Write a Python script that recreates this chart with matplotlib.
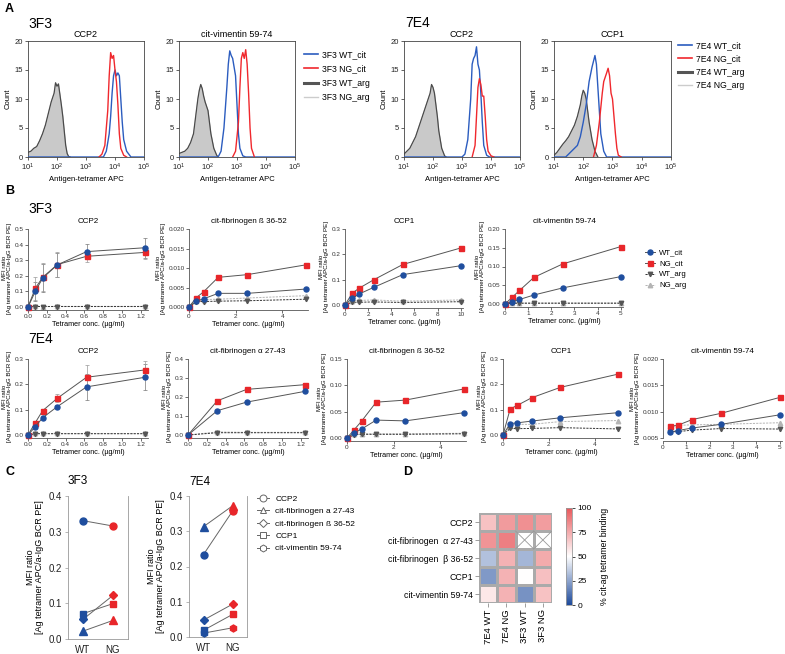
import numpy as np
import matplotlib
matplotlib.use("Agg")
import matplotlib.pyplot as plt
import matplotlib.ticker as mticker
from matplotlib.lines import Line2D
from matplotlib.colors import LinearSegmentedColormap

plt.rcParams['font.family'] = ['Liberation Sans', 'DejaVu Sans']
plt.rcParams['mathtext.fontset'] = 'custom'
plt.rcParams['mathtext.rm'] = 'Liberation Sans'
plt.rcParams['mathtext.it'] = 'Liberation Sans:italic'

W, H = 785, 654

# ── colours ─────────────────────────────────────────────────────────
BLUE = "#1f4e9e"
RED = "#e8262a"
DGRAY = "#555555"
LGRAY = "#b4b4b4"
HBLUE = "#2b5cbf"
HRED = "#f0282d"

# ── Panel A: flow histograms (log10 APC, count) ─────────────────────
A1_ARG_LOG = [1.0, 1.1, 1.2, 1.3, 1.4, 1.5, 1.6, 1.7, 1.8, 1.9, 1.95, 2.0, 2.05, 2.1, 2.15, 2.2, 2.25, 2.3, 2.35, 2.4, 2.45]
A1_ARG_CNT = [0.8, 1.0, 1.5, 1.8, 2.8, 4.0, 5.5, 7.5, 9.5, 11.0, 12.8, 12.2, 12.6, 10.8, 9.0, 7.0, 4.5, 2.0, 0.6, 0.1, 0.0]
A1_WT_LOG = [1.0, 3.6, 3.7, 3.8, 3.85, 3.9, 3.95, 4.0, 4.05, 4.1, 4.15, 4.2, 4.25, 4.3, 4.4, 4.55, 5.0]
A1_WT_CNT = [0, 0, 1.0, 4.0, 7.0, 11.0, 14.0, 15.0, 14.0, 14.5, 14.0, 10.0, 6.0, 3.0, 1.0, 0, 0]
A1_NG_LOG = [3.45, 3.55, 3.65, 3.75, 3.8, 3.85, 3.9, 3.95, 4.0, 4.05, 4.1, 4.15, 4.2, 4.3, 4.4]
A1_NG_CNT = [0, 0.5, 2.0, 8.0, 14.0, 18.0, 17.0, 17.5, 15.0, 13.0, 9.0, 4.0, 1.5, 0.3, 0]

A2_ARG_LOG = [1.0, 1.1, 1.2, 1.3, 1.4, 1.5, 1.55, 1.6, 1.65, 1.7, 1.75, 1.8, 1.85, 1.9, 2.0, 2.05, 2.1, 2.2, 2.3, 2.35]
A2_ARG_CNT = [0.6, 0.8, 1.0, 1.5, 2.5, 4.0, 6.0, 8.0, 10.0, 11.5, 12.5, 11.8, 10.5, 9.5, 8.0, 6.0, 4.0, 1.5, 0.3, 0]
A2_WT_LOG = [1.0, 2.35, 2.45, 2.55, 2.65, 2.7, 2.75, 2.8, 2.85, 2.9, 2.95, 3.0, 3.05, 3.1, 3.2, 3.3, 5.0]
A2_WT_CNT = [0, 0, 1.0, 5.0, 12.0, 16.0, 18.3, 17.5, 17.0, 15.5, 14.0, 9.0, 4.0, 1.5, 0.2, 0, 0]
A2_NG_LOG = [2.85, 2.95, 3.05, 3.1, 3.15, 3.2, 3.25, 3.3, 3.35, 3.4, 3.45, 3.5, 3.6]
A2_NG_CNT = [0, 1.0, 6.0, 12.0, 17.0, 18.0, 17.0, 18.5, 16.0, 11.0, 5.0, 1.5, 0]

A3_ARG_LOG = [1.0, 1.1, 1.2, 1.3, 1.4, 1.5, 1.6, 1.7, 1.8, 1.9, 1.95, 2.0, 2.05, 2.1, 2.15, 2.2, 2.3, 2.4, 2.45]
A3_ARG_CNT = [0.5, 1.0, 1.5, 2.5, 3.5, 5.0, 6.5, 8.0, 9.5, 11.0, 12.5, 12.0, 11.0, 9.0, 7.0, 4.5, 1.5, 0.2, 0]
A3_WT_LOG = [1.0, 3.0, 3.1, 3.2, 3.3, 3.35, 3.4, 3.45, 3.5, 3.55, 3.6, 3.65, 3.7, 3.75, 3.85, 3.95, 5.0]
A3_WT_CNT = [0, 0, 0.5, 3.0, 10.0, 16.0, 17.0, 17.5, 19.0, 16.0, 15.0, 11.0, 6.0, 2.0, 0.3, 0, 0]
A3_NG_LOG = [3.35, 3.45, 3.5, 3.55, 3.6, 3.65, 3.7, 3.75, 3.8, 3.85, 3.9, 4.0, 4.1]
A3_NG_CNT = [0, 2.0, 7.0, 12.0, 13.5, 12.5, 10.5, 10.5, 7.0, 3.0, 1.0, 0.2, 0]

A4_ARG_LOG = [1.0, 1.1, 1.2, 1.3, 1.4, 1.5, 1.6, 1.7, 1.8, 1.9, 1.95, 2.0, 2.05, 2.1, 2.15, 2.2, 2.3, 2.4, 2.5]
A4_ARG_CNT = [0.3, 0.8, 1.5, 2.2, 2.8, 3.5, 4.5, 5.5, 7.0, 9.0, 10.5, 11.5, 11.0, 10.0, 8.0, 6.0, 3.0, 1.0, 0]
A4_WT_LOG = [1.0, 1.4, 1.5, 1.6, 1.8, 1.9, 2.0, 2.1, 2.2, 2.3, 2.4, 2.45, 2.5, 2.55, 2.6, 2.7, 2.8, 5.0]
A4_WT_CNT = [0, 0, 0.5, 1.0, 2.0, 3.5, 6.0, 9.0, 13.0, 15.5, 17.5, 16.0, 12.0, 8.0, 4.0, 1.0, 0, 0]
A4_NG_LOG = [2.35, 2.45, 2.55, 2.65, 2.7, 2.8, 2.85, 2.9, 2.95, 3.0, 3.05, 3.1, 3.15, 3.2, 3.3]
A4_NG_CNT = [0, 2.0, 6.0, 11.0, 13.0, 14.5, 15.3, 14.0, 11.0, 10.0, 7.0, 4.0, 1.5, 0.3, 0]

# ── Panel B: titration curves ────────────────────────────────────────
CONC_CCP2 = [0, 0.078, 0.156, 0.3125, 0.625, 1.25]
CONC_5 = [0, 0.3125, 0.625, 1.25, 2.5, 5]
CONC_10 = [0, 0.625, 1.25, 2.5, 5, 10]
CONC_FIBA = [0, 0.3125, 0.625, 1.25]
CONC_VIM7 = [0.3125, 0.625, 1.25, 2.5, 5]

F3_CCP2_WT = [0, 0.10, 0.185, 0.27, 0.355, 0.38]
F3_CCP2_NG = [0, 0.12, 0.19, 0.272, 0.325, 0.35]
F3_CCP2_WTARG = [0, 0.003, 0.003, 0.003, 0.003, 0.003]
F3_CCP2_NGARG = [0, 0.004, 0.003, 0.004, 0.004, 0.004]
F3_CCP2_WT_ERR = [0, 0.06, 0.09, 0.075, 0.05, 0.065]
F3_CCP2_NG_ERR = [0, 0.075, 0.09, 0.08, 0.035, 0.04]

F3_FIBB_WT = [0, 0.0015, 0.0021, 0.0035, 0.0035, 0.0046]
F3_FIBB_NG = [0, 0.0024, 0.0039, 0.0076, 0.0083, 0.0108]
F3_FIBB_WTARG = [0, 0.0014, 0.0014, 0.0015, 0.0016, 0.0020]
F3_FIBB_NGARG = [0, 0.0016, 0.0019, 0.0020, 0.0023, 0.0029]

F3_CCP1_WT = [0, 0.027, 0.044, 0.07, 0.12, 0.155]
F3_CCP1_NG = [0, 0.047, 0.067, 0.10, 0.16, 0.225]
F3_CCP1_WTARG = [0, 0.011, 0.011, 0.012, 0.010, 0.013]
F3_CCP1_NGARG = [0, 0.017, 0.018, 0.020, 0.015, 0.020]

F3_VIM_WT = [0, 0.006, 0.012, 0.024, 0.043, 0.073]
F3_VIM_NG = [0, 0.018, 0.036, 0.071, 0.107, 0.153]
F3_VIM_WTARG = [0, 0.002, 0.002, 0.002, 0.002, 0.002]
F3_VIM_NGARG = [0, 0.003, 0.003, 0.003, 0.003, 0.003]

E4_CCP2_WT = [0, 0.033, 0.068, 0.112, 0.19, 0.228]
E4_CCP2_NG = [0, 0.049, 0.096, 0.145, 0.228, 0.257]
E4_CCP2_WTARG = [0, 0.005, 0.005, 0.005, 0.005, 0.005]
E4_CCP2_NGARG = [0, 0.006, 0.006, 0.006, 0.006, 0.006]
E4_CCP2_WT_ERR = [0, 0.004, 0.006, 0.006, 0.05, 0.052]
E4_CCP2_NG_ERR = [0, 0.006, 0.006, 0.016, 0.05, 0.035]

E4_FIBA_WT = [0, 0.128, 0.173, 0.23]
E4_FIBA_NG = [0, 0.18, 0.24, 0.265]
E4_FIBA_WTARG = [0, 0.012, 0.012, 0.012]
E4_FIBA_NGARG = [0, 0.016, 0.014, 0.014]

E4_FIBB_WT = [0, 0.010, 0.017, 0.034, 0.0325, 0.048]
E4_FIBB_NG = [0, 0.016, 0.032, 0.068, 0.072, 0.093]
E4_FIBB_WTARG = [0, 0.006, 0.007, 0.007, 0.007, 0.008]
E4_FIBB_NGARG = [0, 0.007, 0.008, 0.008, 0.008, 0.009]

E4_CCP1_WT = [0, 0.045, 0.048, 0.055, 0.068, 0.088]
E4_CCP1_NG = [0, 0.103, 0.117, 0.147, 0.188, 0.24]
E4_CCP1_WTARG = [0, 0.026, 0.025, 0.026, 0.029, 0.024]
E4_CCP1_NGARG = [0, 0.036, 0.042, 0.042, 0.053, 0.057]

E4_VIM_WT = [0.0061, 0.0064, 0.0069, 0.0076, 0.0094]
E4_VIM_NG = [0.0072, 0.0074, 0.0085, 0.0097, 0.0127]
E4_VIM_WTARG = [0.0062, 0.0062, 0.0065, 0.0068, 0.0067]
E4_VIM_NGARG = [0.0073, 0.0074, 0.0075, 0.0076, 0.0079]

# ── Panel C: WT vs NG ────────────────────────────────────────────────
C_GROUPS = ["WT", "NG"]
C_ANTIGENS = ["CCP2", "cit-fibrinogen a 27-43", "cit-fibrinogen ß 36-52", "CCP1", "cit-vimentin 59-74"]
C_MARKERS = ["o", "^", "D", "s", "h"]
C_3F3_WT = [0.331, 0.022, 0.055, 0.071, None]
C_3F3_NG = [0.316, 0.052, 0.122, 0.099, None]
C_7E4_WT = [0.234, 0.313, 0.048, 0.019, 0.011]
C_7E4_NG = [0.357, 0.372, 0.093, 0.064, 0.026]

# ── Panel D: heatmap ─────────────────────────────────────────────────
D_ROWS = ["CCP2", "cit-fibrinogen  α 27-43", "cit-fibrinogen  β 36-52", "CCP1", "cit-vimentin 59-74"]
D_COLS = ["7E4 WT", "7E4 NG", "3F3 WT", "3F3 NG"]
D_VALS = [
    [68, 80, 83, 79],
    [82, 88, np.nan, np.nan],
    [33, 73, 30, 75],
    [22, 73, 50, 69],
    [57, 73, 20, 68],
]

fig = plt.figure(figsize=(W / 100, H / 100), dpi=100)


def px_axes(x0, y0, x1, y1):
    return fig.add_axes([x0 / W, 1 - y1 / H, (x1 - x0) / W, (y1 - y0) / H])


def ftext(x, y, s, **kw):
    kw.setdefault("va", "center")
    fig.text(x / W, 1 - y / H, s, **kw)


def draw_hist(ax, arg, wt, ng, title):
    arg_x = 10 ** np.array(arg[0])
    ax.set_xscale("log")
    ax.fill_between(arg_x, arg[1], color="#c9c9c9", lw=0, zorder=1)
    ax.plot(arg_x, arg[1], color="#cfcfcf", lw=0.6, zorder=2)
    ax.plot(arg_x, arg[1], color="#4a4a4a", lw=0.9, zorder=2)
    ax.plot(10 ** np.array(wt[0]), wt[1], color=HBLUE, lw=1.0, zorder=3)
    ax.plot(10 ** np.array(ng[0]), ng[1], color=HRED, lw=1.0, zorder=3)
    ax.set_xlim(10, 1e5)
    ax.set_ylim(0, 20)
    ax.set_yticks([0, 5, 10, 15, 20])
    ax.xaxis.set_major_locator(mticker.LogLocator(base=10, numticks=6))
    ax.xaxis.set_minor_locator(mticker.NullLocator())
    ax.tick_params(labelsize=5.5, length=2, width=0.5, pad=1.5, colors="#222")
    for sp in ax.spines.values():
        sp.set_linewidth(0.6)
        sp.set_color("#444")
    ax.set_title(title, fontsize=6.5, pad=3)
    ax.set_ylabel("Count", fontsize=5.5, labelpad=2)
    ax.set_xlabel("Antigen-tetramer APC", fontsize=5.5, labelpad=2)


def draw_b(ax, conc, wt, ng, wtarg, ngarg, title, ylim, yticks, yfmt, xlim, xticks, xfmt,
           wt_err=None, ng_err=None):
    dash = (0, (2.2, 1.2))
    ax.plot(conc, ngarg, color=LGRAY, ls=dash, lw=0.7, marker="^", ms=3.2,
            mfc=LGRAY, mec=LGRAY, zorder=2, clip_on=False)
    ax.plot(conc, wtarg, color="#333333", ls=dash, lw=0.7, marker="v", ms=3.2,
            mfc=DGRAY, mec=DGRAY, zorder=2, clip_on=False)
    if wt_err is not None:
        ax.errorbar(conc, wt, yerr=wt_err, fmt="none", ecolor="#777", elinewidth=0.5,
                    capsize=1.2, capthick=0.5, zorder=1)
        ax.errorbar(conc, ng, yerr=ng_err, fmt="none", ecolor="#999", elinewidth=0.5,
                    capsize=1.2, capthick=0.5, zorder=1)
    ax.plot(conc, ng, color=DGRAY, lw=0.7, marker="s", ms=3.6, mfc=RED, mec=RED,
            zorder=3, clip_on=False)
    ax.plot(conc, wt, color=DGRAY, lw=0.7, marker="o", ms=3.6, mfc=BLUE, mec=BLUE,
            zorder=4, clip_on=False)
    ax.set_ylim(*ylim)
    ax.set_yticks(yticks)
    ax.yaxis.set_major_formatter(mticker.FormatStrFormatter(yfmt))
    ax.set_xlim(*xlim)
    ax.set_xticks(xticks)
    ax.xaxis.set_major_formatter(mticker.FormatStrFormatter(xfmt))
    ax.spines["top"].set_visible(False)
    ax.spines["right"].set_visible(False)
    ax.spines["bottom"].set_position(("outward", 2))
    for sp in ("left", "bottom"):
        ax.spines[sp].set_linewidth(0.6)
        ax.spines[sp].set_color("#555")
    ax.tick_params(labelsize=4.6, length=2, width=0.5, pad=1.2, colors="#333")
    ax.set_title(title, fontsize=5.8, pad=4)
    ax.set_xlabel("Tetramer conc. (µg/ml)", fontsize=5.2, labelpad=1.5)
    ax.set_ylabel("MFI ratio\n[Ag tetramer APC/a-IgG BCR PE]", fontsize=4.4, labelpad=2,
                  linespacing=1.0)


# ── Panel A ─────────────────────────────────────────────────────────
ftext(5, 9, "A", fontsize=9, fontweight="bold")
ftext(28, 24, "3F3", fontsize=10)
ftext(405, 23, "7E4", fontsize=10)

ax = px_axes(28, 41, 144, 157)
draw_hist(ax, (A1_ARG_LOG, A1_ARG_CNT), (A1_WT_LOG, A1_WT_CNT), (A1_NG_LOG, A1_NG_CNT), "CCP2")
ax = px_axes(179, 41, 295, 157)
draw_hist(ax, (A2_ARG_LOG, A2_ARG_CNT), (A2_WT_LOG, A2_WT_CNT), (A2_NG_LOG, A2_NG_CNT), "cit-vimentin 59-74")
ax = px_axes(404, 41, 520, 157)
draw_hist(ax, (A3_ARG_LOG, A3_ARG_CNT), (A3_WT_LOG, A3_WT_CNT), (A3_NG_LOG, A3_NG_CNT), "CCP2")
ax = px_axes(554, 41, 671, 157)
draw_hist(ax, (A4_ARG_LOG, A4_ARG_CNT), (A4_WT_LOG, A4_WT_CNT), (A4_NG_LOG, A4_NG_CNT), "CCP1")


def hist_handles():
    return [Line2D([], [], color=HBLUE, lw=1.2), Line2D([], [], color=HRED, lw=1.2),
            Line2D([], [], color="#555555", lw=2.2), Line2D([], [], color="#cccccc", lw=1.0)]


for clone, (lx, ly, spacing) in {"3F3": (304, 50, 0.62), "7E4": (678, 41, 0.5)}.items():
    fig.legend(hist_handles(), [f"{clone} WT_cit", f"{clone} NG_cit", f"{clone} WT_arg", f"{clone} NG_arg"],
               loc="upper left", bbox_to_anchor=(lx / W, 1 - ly / H), frameon=False,
               fontsize=6.2, handlelength=1.6, handletextpad=0.5, labelspacing=spacing,
               borderaxespad=0, borderpad=0)

# ── Panel B ─────────────────────────────────────────────────────────
ftext(5, 191, "B", fontsize=9, fontweight="bold")
ftext(28, 209, "3F3", fontsize=10)
ftext(28, 339, "7E4", fontsize=10)

ax = px_axes(28, 229, 148, 307)
draw_b(ax, CONC_CCP2, F3_CCP2_WT, F3_CCP2_NG, F3_CCP2_WTARG, F3_CCP2_NGARG, "CCP2",
       (0, 0.5), [0, 0.1, 0.2, 0.3, 0.4, 0.5], "%.1f", (0, 1.28), [0, 0.2, 0.4, 0.6, 0.8, 1.0, 1.2], "%.1f",
       F3_CCP2_WT_ERR, F3_CCP2_NG_ERR)
ax = px_axes(189, 229, 308, 307)
draw_b(ax, CONC_5, F3_FIBB_WT, F3_FIBB_NG, F3_FIBB_WTARG, F3_FIBB_NGARG, "cit-fibrinogen ß 36-52",
       (0, 0.02), [0, 0.005, 0.01, 0.015, 0.02], "%.3f", (0, 5.1), [0, 2, 4], "%d")
ax = px_axes(345, 229, 463, 305)
draw_b(ax, CONC_10, F3_CCP1_WT, F3_CCP1_NG, F3_CCP1_WTARG, F3_CCP1_NGARG, "CCP1",
       (0, 0.3), [0, 0.1, 0.2, 0.3], "%.1f", (0, 10.2), [0, 2, 4, 6, 8, 10], "%d")
ax = px_axes(505, 229, 623, 304)
draw_b(ax, CONC_5, F3_VIM_WT, F3_VIM_NG, F3_VIM_WTARG, F3_VIM_NGARG, "cit-vimentin 59-74",
       (0, 0.2), [0, 0.05, 0.1, 0.15, 0.2], "%.2f", (0, 5.1), [0, 1, 2, 3, 4, 5], "%d")

b_handles = [
    Line2D([], [], color=DGRAY, lw=0.7, marker="o", ms=3.6, mfc=BLUE, mec=BLUE),
    Line2D([], [], color=DGRAY, lw=0.7, marker="s", ms=3.6, mfc=RED, mec=RED),
    Line2D([], [], color="#333", lw=0.7, ls=(0, (2.2, 1.2)), marker="v", ms=3.2, mfc=DGRAY, mec=DGRAY),
    Line2D([], [], color=LGRAY, lw=0.7, ls=(0, (2.2, 1.2)), marker="^", ms=3.2, mfc=LGRAY, mec=LGRAY),
]
fig.legend(b_handles, ["WT_cit", "NG_cit", "WT_arg", "NG_arg"], loc="upper left",
           bbox_to_anchor=(645 / W, 1 - 249 / H), frameon=False, fontsize=5.6,
           handlelength=1.3, handletextpad=0.5, labelspacing=0.45, borderaxespad=0, borderpad=0)

ax = px_axes(28, 359, 148, 435)
draw_b(ax, CONC_CCP2, E4_CCP2_WT, E4_CCP2_NG, E4_CCP2_WTARG, E4_CCP2_NGARG, "CCP2",
       (0, 0.3), [0, 0.1, 0.2, 0.3], "%.1f", (0, 1.28), [0, 0.2, 0.4, 0.6, 0.8, 1.0, 1.2], "%.1f",
       E4_CCP2_WT_ERR, E4_CCP2_NG_ERR)
ax = px_axes(188, 359, 308, 435)
draw_b(ax, CONC_FIBA, E4_FIBA_WT, E4_FIBA_NG, E4_FIBA_WTARG, E4_FIBA_NGARG, "cit-fibrinogen α 27-43",
       (0, 0.4), [0, 0.1, 0.2, 0.3, 0.4], "%.1f", (0, 1.28), [0, 0.2, 0.4, 0.6, 0.8, 1.0, 1.2], "%.1f")
ax = px_axes(347, 359, 466, 438)
draw_b(ax, CONC_5, E4_FIBB_WT, E4_FIBB_NG, E4_FIBB_WTARG, E4_FIBB_NGARG, "cit-fibrinogen ß 36-52",
       (0, 0.15), [0, 0.05, 0.1, 0.15], "%.2f", (0, 5.1), [0, 2, 4], "%d")
ax = px_axes(503, 359, 620, 435)
draw_b(ax, CONC_5, E4_CCP1_WT, E4_CCP1_NG, E4_CCP1_WTARG, E4_CCP1_NGARG, "CCP1",
       (0, 0.3), [0, 0.1, 0.2, 0.3], "%.1f", (0, 5.1), [0, 2, 4], "%d")
ax = px_axes(663, 359, 782, 438)
draw_b(ax, CONC_VIM7, E4_VIM_WT, E4_VIM_NG, E4_VIM_WTARG, E4_VIM_NGARG, "cit-vimentin 59-74",
       (0.005, 0.02), [0.005, 0.01, 0.015, 0.02], "%.3f", (0, 5.1), [0, 1, 2, 3, 4, 5], "%d")

# ── Panel C ─────────────────────────────────────────────────────────
ftext(5, 472, "C", fontsize=9, fontweight="bold")


def draw_c(ax, wt_vals, ng_vals, clone):
    xs = np.arange(len(C_GROUPS))
    for m, wv, nv in zip(C_MARKERS, wt_vals, ng_vals):
        if wv is None:
            continue
        ms = 5.0 if m in ("o", "h", "s") else (5.5 if m == "^" else 4.2)
        ax.plot(xs, [wv, nv], color="#666", lw=0.7, zorder=1)
        ax.plot(xs[0], wv, marker=m, ms=ms, color=BLUE, mec=BLUE, zorder=3, ls="none")
        ax.plot(xs[1], nv, marker=m, ms=ms, color=RED, mec=RED, zorder=3, ls="none")
    ax.set_xlim(-0.5, 1.5)
    ax.set_ylim(0, 0.4)
    ax.set_xticks(xs)
    ax.set_xticklabels(C_GROUPS)
    ax.set_yticks([0, 0.1, 0.2, 0.3, 0.4])
    ax.yaxis.set_major_formatter(mticker.FormatStrFormatter("%.1f"))
    ax.spines["top"].set_visible(False)
    for sp in ("left", "bottom", "right"):
        ax.spines[sp].set_linewidth(0.6)
        ax.spines[sp].set_color("#999")
    ax.tick_params(labelsize=7, length=2.5, width=0.5, pad=2, colors="#222")
    ax.tick_params(axis="y", colors="#999", labelcolor="#222")
    ax.tick_params(axis="x", length=0, pad=4)
    ax.set_ylabel("MFI ratio\n[Ag tetramer APC/a-IgG BCR PE]", fontsize=6.5, labelpad=3, linespacing=1.1)
    ax.text(0, 1.06, clone, transform=ax.transAxes, fontsize=8.5, ha="left", va="bottom")


ax = px_axes(68, 496, 128, 639)
draw_c(ax, C_3F3_WT, C_3F3_NG, "3F3")
ax = px_axes(189, 496, 247, 637)
draw_c(ax, C_7E4_WT, C_7E4_NG, "7E4")

c_handles = [Line2D([], [], color="#666", lw=0.7, marker=m, ms=5 if m != "D" else 3.8,
                    mfc="white", mec="#666", mew=0.7) for m in C_MARKERS]
fig.legend(c_handles, C_ANTIGENS, loc="upper left", bbox_to_anchor=(257 / W, 1 - 495 / H),
           frameon=False, fontsize=6.0, handlelength=1.4, handletextpad=0.8, labelspacing=0.55,
           borderaxespad=0, borderpad=0)

# ── Panel D ─────────────────────────────────────────────────────────
ftext(403, 472, "D", fontsize=9, fontweight="bold")

cmap = LinearSegmentedColormap.from_list("bwr_soft", ["#1d4a9b", "#ffffff", "#e8585b"])
cmap.set_bad("white")
vals = np.ma.masked_invalid(np.array(D_VALS, dtype=float))
ax = px_axes(479, 513, 552, 603)
mesh = ax.pcolormesh(vals, cmap=cmap, vmin=0, vmax=100, edgecolors="#aaaaaa", linewidth=1.0)
for i, row in enumerate(D_VALS):
    for j, v in enumerate(row):
        if np.isnan(v):
            ax.plot([j, j + 1], [i, i + 1], color="#999", lw=0.6)
            ax.plot([j, j + 1], [i + 1, i], color="#999", lw=0.6)
            ax.add_patch(plt.Rectangle((j, i), 1, 1, fill=False, ec="#aaaaaa", lw=1.0))
ax.set_xlim(0, len(D_COLS))
ax.set_ylim(len(D_ROWS), 0)
ax.set_xticks(np.arange(len(D_COLS)) + 0.5)
ax.set_xticklabels(D_COLS, rotation=90, fontsize=6.8)
ax.set_yticks(np.arange(len(D_ROWS)) + 0.5)
ax.set_yticklabels(D_ROWS, fontsize=6.3)
ax.tick_params(length=3, width=0.5, color="#777", pad=1.5)
for sp in ax.spines.values():
    sp.set_visible(False)

cax = px_axes(566, 508, 572, 605)
cb = fig.colorbar(mesh, cax=cax, ticks=[0, 25, 50, 75, 100])
cb.ax.tick_params(labelsize=6, length=2, width=0.5, pad=2)
cb.outline.set_edgecolor("#999")
cb.outline.set_linewidth(0.6)
cb.set_label("% cit-ag tetramer binding", fontsize=6.3, labelpad=6)

fig.savefig("out.png", dpi=100)
